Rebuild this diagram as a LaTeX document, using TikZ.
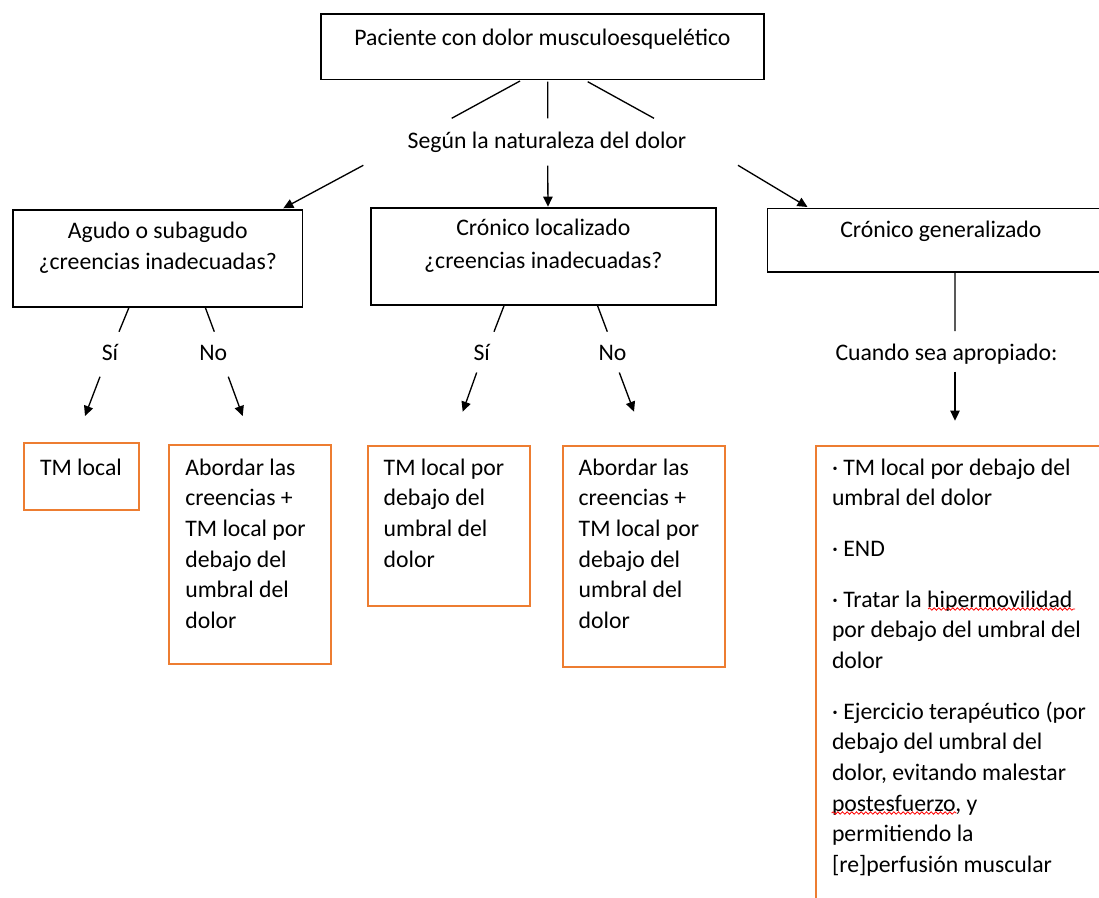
\documentclass[tikz,border=0pt]{standalone}
\usepackage{fontspec}
\setmainfont{Carlito}
\usetikzlibrary{arrows.meta,decorations.pathmorphing}

\definecolor{boxorange}{HTML}{ED7D31}

\tikzset{
    every node/.style={font=\fontsize{17.8}{23}\selectfont, inner sep=0pt},
    blackbox/.style={draw, line width=1.2pt, align=flush center, anchor=north west,
        font=\fontsize{17.8}{24.3}\selectfont},
    orangebox/.style={draw=boxorange, line width=1.5pt, align=flush left, anchor=north west,
        inner xsep=12pt},
    link/.style={line width=1pt},
    arrow/.style={link, -{Triangle[length=7.5pt,width=7pt]}},
    redwave/.style={red, line width=0.6pt, decorate,
        decoration={snake, amplitude=0.9pt, segment length=3.5pt}},
}

\begin{document}
\begin{tikzpicture}[x=0.75pt, y=-0.75pt]
    \useasboundingbox (0,0) rectangle (1099,897);

    % primer nivel
    \node [blackbox, text width=332.5pt, text height=23.8pt, text depth=25.3pt]
        (paciente) at (320,13.3) {Paciente con dolor musculoesquelético};
    \node [anchor=base] (segun) at (547,148.3) {Según la naturaleza del dolor};

    % segundo nivel
    \node [blackbox, font=\fontsize{17.8}{23.5}\selectfont,
           text width=217pt, text height=21pt, text depth=51.5pt]
        (agudo) at (12.3,209.3) {Agudo o subagudo\\ ¿creencias inadecuadas?};
    \node [blackbox, text width=258.75pt, text height=20.8pt, text depth=52pt]
        (localizado) at (370,207.3) {Crónico localizado\\ ¿creencias inadecuadas?};
    \node [blackbox, text width=260pt, text height=21.75pt, text depth=25.7pt]
        (generalizado) at (766.7,207.7) {Crónico generalizado};

    \node [anchor=base] (siA) at (110,360) {Sí};
    \node [anchor=base] (noA) at (213.3,360) {No};
    \node [anchor=base] (siB) at (481.7,360) {Sí};
    \node [anchor=base] (noB) at (612.5,360) {No};
    \node [anchor=base] (cuando) at (946.5,360) {Cuando sea apropiado:};

    % tratamientos
    \node [orangebox, text width=62pt, text height=23.8pt, text depth=26pt]
        (tmlocal) at (23,442.3) {TM local};
    \node [orangebox, text width=97.3pt, text height=22.5pt, text depth=142pt]
        (abordarA) at (168.3,444)
        {Abordar las\\ creencias +\\ TM local por\\ debajo del\\ umbral del\\ dolor};
    \node [orangebox, text width=97.7pt, text height=21.75pt, text depth=98.25pt]
        (tmdebajo) at (366.7,445)
        {TM local por\\ debajo del\\ umbral del\\ dolor};
    \node [orangebox, text width=97.7pt, text height=21.75pt, text depth=144pt]
        (abordarB) at (561.7,445)
        {Abordar las\\ creencias +\\ TM local por\\ debajo del\\ umbral del\\ dolor};
    \node [orangebox, text width=212pt, text height=21.75pt, text depth=327pt]
        (pautas) at (815,445)
        {· TM local por debajo del\\ umbral del dolor\\[15pt]
         · END\\[15pt]
         · Tratar la hipermovilidad\\ por debajo del umbral del\\ dolor\\[15pt]
         · Ejercicio terapéutico (por\\ debajo del umbral del\\ dolor, evitando malestar\\
         postesfuerzo, y\\ permitiendo la\\ {[re]}perfusión muscular};

    % subrayado del corrector
    \draw [redwave] (928,609) -- (1075,609);
    \draw [redwave] (831.7,813) -- (956.7,813);

    % extremos de los conectores
    \coordinate (pac-l) at (520,81);
    \coordinate (pac-m) at (547.7,81.7);
    \coordinate (pac-r) at (587.7,81.7);
    \coordinate (seg-in-l) at (451.7,118.3);
    \coordinate (seg-in-m) at (547.7,118.3);
    \coordinate (seg-in-r) at (654,118.3);
    \coordinate (seg-out-l) at (363.3,165.3);
    \coordinate (seg-out-m) at (547.7,165.7);
    \coordinate (seg-out-r) at (738,165.3);
    \coordinate (agudo-in) at (283.3,208.3);
    \coordinate (localizado-in) at (548,206.7);
    \coordinate (generalizado-in) at (807.5,207);

    \coordinate (agudo-si) at (129.3,306.7);
    \coordinate (agudo-no) at (205,306.7);
    \coordinate (siA-in) at (119,331.7);
    \coordinate (noA-in) at (214.3,331.7);
    \coordinate (siA-out) at (100,376.7);
    \coordinate (noA-out) at (228.3,376.7);
    \coordinate (tmlocal-in) at (85,416);
    \coordinate (abordarA-in) at (242.7,416);

    \coordinate (localizado-si) at (504.3,305);
    \coordinate (localizado-no) at (597.3,305);
    \coordinate (siB-in) at (494,331.7);
    \coordinate (noB-in) at (607.3,331.7);
    \coordinate (siB-out) at (476.7,372.5);
    \coordinate (noB-out) at (619.3,372.5);
    \coordinate (tmdebajo-in) at (462.7,411.7);
    \coordinate (abordarB-in) at (634,411.7);

    \coordinate (generalizado-out) at (955,272);
    \coordinate (cuando-in) at (955,331);
    \coordinate (cuando-out) at (955,371.7);
    \coordinate (pautas-in) at (955,420.7);

    % conectores
    \draw [link]
        (pac-l) -- (seg-in-l)
        (pac-m) -- (seg-in-m)
        (pac-r) -- (seg-in-r)
        ;
    \draw [arrow] (seg-out-l) -- (agudo-in);
    \draw [arrow] (seg-out-m) -- (localizado-in);
    \draw [arrow] (seg-out-r) -- (generalizado-in);

    \draw [link]
        (agudo-si) -- (siA-in)
        (agudo-no) -- (noA-in)
        (localizado-si) -- (siB-in)
        (localizado-no) -- (noB-in)
        (generalizado-out) -- (cuando-in)
        ;
    \draw [arrow] (siA-out) -- (tmlocal-in);
    \draw [arrow] (noA-out) -- (abordarA-in);
    \draw [arrow] (siB-out) -- (tmdebajo-in);
    \draw [arrow] (noB-out) -- (abordarB-in);
    \draw [arrow] (cuando-out) -- (pautas-in);
\end{tikzpicture}
\end{document}
